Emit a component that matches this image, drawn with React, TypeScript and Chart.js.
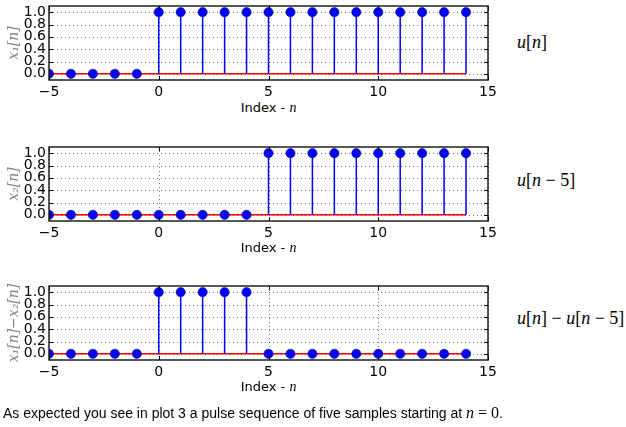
import React, { useEffect, useRef } from "react";
import { Chart, registerables } from "chart.js";

Chart.register(...registerables);

// ---- data ----
const nValues = [-5, -4, -3, -2, -1, 0, 1, 2, 3, 4, 5, 6, 7, 8, 9, 10, 11, 12, 13, 14];
const x1Values = [0, 0, 0, 0, 0, 1, 1, 1, 1, 1, 1, 1, 1, 1, 1, 1, 1, 1, 1, 1];
const x2Values = [0, 0, 0, 0, 0, 0, 0, 0, 0, 0, 1, 1, 1, 1, 1, 1, 1, 1, 1, 1];
const diffValues = [0, 0, 0, 0, 0, 1, 1, 1, 1, 1, 0, 0, 0, 0, 0, 0, 0, 0, 0, 0];
const xTickValues = [-5, 0, 5, 10, 15];
const yTickValues = [0, 0.2, 0.4, 0.6, 0.8, 1.0];
const xLimits = [-5, 15];
const yLimits = [-0.1, 1.1];
const yTitles = ["x\u2081[n]", "x\u2082[n]", "x\u2081[n]\u2212x\u2082[n]"];
const xTitleText = "Index - ";
const xTitleVar = "n";

const CANVAS_W = 500;
const CANVAS_H = 100;

const mplAxes = {
  id: "mplAxes",
  beforeDatasetsDraw(chart: any) {
    const { ctx, chartArea: a, scales } = chart;
    const x = scales.x;
    const y = scales.y;
    ctx.save();
    ctx.strokeStyle = "rgba(0,0,0,0.55)";
    ctx.lineWidth = 1;
    ctx.setLineDash([1, 3]);
    for (const t of x.ticks) {
      const px = Math.round(x.getPixelForValue(t.value)) + 0.5;
      ctx.beginPath();
      ctx.moveTo(px, a.top);
      ctx.lineTo(px, a.bottom);
      ctx.stroke();
    }
    for (const t of y.ticks) {
      const py = Math.round(y.getPixelForValue(t.value)) + 0.5;
      ctx.beginPath();
      ctx.moveTo(a.left, py);
      ctx.lineTo(a.right, py);
      ctx.stroke();
    }
    ctx.restore();
  },
  afterDatasetsDraw(chart: any) {
    const { ctx, chartArea: a, scales } = chart;
    const x = scales.x;
    const y = scales.y;
    const tl = 4;
    ctx.save();
    ctx.strokeStyle = "#000";
    ctx.lineWidth = 1;
    for (const t of x.ticks) {
      const px = Math.round(x.getPixelForValue(t.value)) + 0.5;
      ctx.beginPath();
      ctx.moveTo(px, a.bottom);
      ctx.lineTo(px, a.bottom - tl);
      ctx.moveTo(px, a.top);
      ctx.lineTo(px, a.top + tl);
      ctx.stroke();
    }
    for (const t of y.ticks) {
      const py = Math.round(y.getPixelForValue(t.value)) + 0.5;
      ctx.beginPath();
      ctx.moveTo(a.left, py);
      ctx.lineTo(a.left + tl, py);
      ctx.moveTo(a.right, py);
      ctx.lineTo(a.right - tl, py);
      ctx.stroke();
    }
    ctx.strokeStyle = "#111";
    ctx.lineWidth = 1.4;
    ctx.strokeRect(a.left, a.top, a.right - a.left, a.bottom - a.top);
    ctx.restore();
  },
};

function Panel({ top, values, yTitle }: { top: number; values: number[]; yTitle: string }) {
  const ref = useRef<HTMLCanvasElement | null>(null);
  useEffect(() => {
    if (!ref.current) return;
    const markers = nValues.map((n, i) => ({ x: n, y: values[i] }));
    const stems: any[] = [];
    nValues.forEach((n, i) => {
      stems.push({ x: n, y: 0 });
      stems.push({ x: n, y: values[i] });
      stems.push({ x: n, y: null });
    });
    const baseline = [
      { x: nValues[0], y: 0 },
      { x: nValues[nValues.length - 1], y: 0 },
    ];
    const chart = new Chart(ref.current, {
      type: "scatter",
      data: {
        datasets: [
          {
            type: "scatter",
            data: markers,
            pointRadius: 4.6,
            pointBackgroundColor: "#0000ff",
            pointBorderColor: "#00007a",
            pointBorderWidth: 0.6,
            clip: 0,
          } as any,
          {
            type: "line",
            data: stems,
            borderColor: "#0000ff",
            borderWidth: 1.5,
            pointRadius: 0,
            spanGaps: false,
            fill: false,
          } as any,
          {
            type: "line",
            data: baseline,
            borderColor: "#ff0000",
            borderWidth: 1.5,
            pointRadius: 0,
            fill: false,
          } as any,
        ],
      },
      options: {
        responsive: false,
        animation: false,
        events: [],
        layout: { padding: { top: 6, right: 12, left: 0, bottom: 0 } },
        plugins: { legend: { display: false }, tooltip: { enabled: false } },
        scales: {
          x: {
            type: "linear",
            min: xLimits[0],
            max: xLimits[1],
            grid: { display: false, drawTicks: false },
            border: { display: false },
            afterBuildTicks: (s: any) => {
              s.ticks = xTickValues.map((v) => ({ value: v }));
            },
            afterFit: (s: any) => {
              s.height = 20;
              s.paddingLeft = 0;
              s.paddingRight = 0;
            },
            ticks: {
              padding: 4,
              color: "#000",
              font: { family: "DejaVu Sans", size: 14 },
              maxRotation: 0,
              autoSkip: false,
              callback: (v: any) => String(v).replace("-", "\u2212"),
            },
          },
          y: {
            type: "linear",
            min: yLimits[0],
            max: yLimits[1],
            grid: { display: false, drawTicks: false },
            border: { display: false },
            afterBuildTicks: (s: any) => {
              s.ticks = yTickValues.map((v) => ({ value: v }));
            },
            afterFit: (s: any) => {
              s.width = 49;
              s.paddingTop = 0;
              s.paddingBottom = 0;
            },
            ticks: {
              padding: 3,
              color: "#000",
              font: { family: "DejaVu Sans", size: 14 },
              autoSkip: false,
              callback: (v: any) => Number(v).toFixed(1),
            },
            title: {
              display: true,
              text: yTitle,
              color: "#808080",
              padding: { top: 6, bottom: 0 },
              font: { family: "DejaVu Serif", size: 14, style: "italic" },
            },
          },
        },
      },
      plugins: [mplAxes],
    } as any);
    return () => chart.destroy();
  }, [values, yTitle]);
  return (
    <canvas
      ref={ref}
      width={CANVAS_W}
      height={CANVAS_H}
      style={{ position: "absolute", left: 0, top, width: CANVAS_W, height: CANVAS_H }}
    />
  );
}

const serif = "'Liberation Serif', 'Times New Roman', serif";

function XLabel({ top }: { top: number }) {
  return (
    <div
      style={{
        position: "absolute",
        left: 49,
        width: 439,
        top,
        height: 16,
        lineHeight: "16px",
        textAlign: "center",
        fontFamily: "'DejaVu Sans', sans-serif",
        fontSize: 13,
        color: "#000",
        whiteSpace: "nowrap",
      }}
    >
      {xTitleText}
      <i style={{ fontFamily: serif, fontSize: 14 }}>{xTitleVar}</i>
    </div>
  );
}

function SideLabel({ top, children }: { top: number; children: React.ReactNode }) {
  return (
    <div
      style={{
        position: "absolute",
        left: 517,
        top,
        height: 22,
        lineHeight: "22px",
        fontFamily: serif,
        fontSize: 18,
        color: "#000",
        whiteSpace: "nowrap",
      }}
    >
      {children}
    </div>
  );
}

export default function App() {
  return (
    <div style={{ position: "absolute", left: 0, top: 0, width: 626, height: 427, background: "#fff", overflow: "hidden" }}>
      <Panel top={0} values={x1Values} yTitle={yTitles[0]} />
      <Panel top={141} values={x2Values} yTitle={yTitles[1]} />
      <Panel top={280} values={diffValues} yTitle={yTitles[2]} />
      <XLabel top={100} />
      <XLabel top={240} />
      <XLabel top={379} />
      <SideLabel top={31}>
        <i>u</i>[<i>n</i>]
      </SideLabel>
      <SideLabel top={169}>
        <i>u</i>[<i>n</i> {"\u2212"} 5]
      </SideLabel>
      <SideLabel top={307}>
        <i>u</i>[<i>n</i>] {"\u2212"} <i>u</i>[<i>n</i> {"\u2212"} 5]
      </SideLabel>
      <div
        style={{
          position: "absolute",
          left: 3,
          top: 405,
          height: 16,
          lineHeight: "16px",
          fontFamily: "'Liberation Sans', Arial, sans-serif",
          fontSize: 14,
          color: "#000",
          whiteSpace: "nowrap",
        }}
      >
        As expected you see in plot 3 a pulse sequence of five samples starting at{" "}
        <span style={{ fontFamily: serif, fontSize: 16 }}>
          <i>n</i> = 0
        </span>
        .
      </div>
    </div>
  );
}
